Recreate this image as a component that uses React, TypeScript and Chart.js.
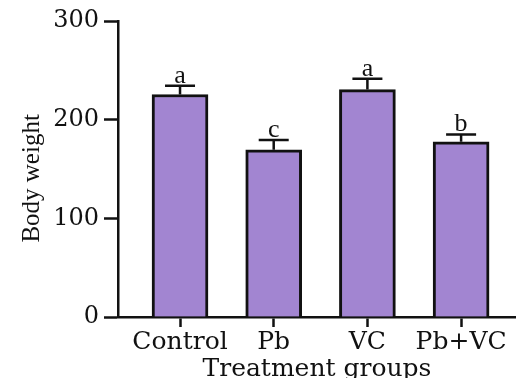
import React, { useEffect, useRef } from "react";
import { Chart, registerables } from "chart.js";

Chart.register(...registerables);

const categories = ["Control", "Pb", "VC", "Pb+VC"];
const means = [225.5, 169.5, 230.5, 177.5];
const errors = [9, 10, 11, 7.5];
const letters = ["a", "c", "a", "b"];
const yTicks = [0, 100, 200, 300];

const errorBarPlugin = {
  id: "errorBars",
  afterDatasetsDraw(chart: any) {
    const xs = chart.scales.x;
    const ys = chart.scales.y;
    const ctx = chart.ctx;
    ctx.save();
    ctx.strokeStyle = "#111";
    ctx.lineWidth = 2.5;
    ctx.fillStyle = "#111";
    ctx.font = "26px 'Liberation Serif'";
    ctx.textAlign = "center";
    ctx.textBaseline = "alphabetic";
    means.forEach((m, i) => {
      const x = xs.getPixelForValue(i);
      const yTop = ys.getPixelForValue(m);
      const yCap = ys.getPixelForValue(m + errors[i]);
      ctx.beginPath();
      ctx.moveTo(x, yTop);
      ctx.lineTo(x, yCap);
      ctx.moveTo(x - 15, yCap);
      ctx.lineTo(x + 15, yCap);
      ctx.stroke();
      ctx.fillText(letters[i], x, yCap - 3);
    });
    ctx.restore();
  },
};

export default function App() {
  const ref = useRef<HTMLCanvasElement | null>(null);
  useEffect(() => {
    if (!ref.current) return;
    const chart = new Chart(ref.current, {
      type: "bar",
      data: {
        datasets: [
          {
            label: "Body weight",
            data: means.map((v, i) => ({ x: i, y: v })),
            backgroundColor: "#a285d1",
            borderColor: "#111",
            borderWidth: 3,
            barThickness: 56,
          },
        ],
      },
      plugins: [errorBarPlugin],
      options: {
        animation: false,
        responsive: false,
        layout: { padding: { top: 21, left: 0, right: 0, bottom: 0 } },
        plugins: { legend: { display: false }, tooltip: { enabled: false } },
        scales: {
          x: {
            type: "linear",
            min: -0.662,
            max: 3.586,
            offset: false,
            afterBuildTicks: (scale: any) => {
              scale.ticks = categories.map((_, i) => ({ value: i }));
            },
            afterFit: (scale: any) => {
              scale.height = 61;
            },
            border: { display: true, color: "#111", width: 2.5 },
            grid: {
              offset: false,
              drawOnChartArea: false,
              drawTicks: true,
              tickLength: 10,
              tickWidth: 2.5,
              tickColor: "#111",
            },
            ticks: {
              padding: 0,
              color: "#111",
              maxRotation: 0,
              autoSkip: false,
              font: { family: "'DejaVu Serif'", size: 25, lineHeight: 1.2 },
              callback: (v: any) => categories[v as number] ?? "",
            },
            title: {
              display: true,
              text: "Treatment groups",
              color: "#111",
              font: { family: "'DejaVu Serif'", size: 25, lineHeight: 1.2 },
              padding: { top: 0, bottom: -6 },
            },
          },
          y: {
            min: 0,
            max: 300,
            afterBuildTicks: (scale: any) => {
              scale.ticks = yTicks.map((v) => ({ value: v }));
            },
            afterFit: (scale: any) => {
              scale.width = 118;
            },
            border: { display: true, color: "#111", width: 2.5 },
            grid: {
              drawOnChartArea: false,
              drawTicks: true,
              tickLength: 14,
              tickWidth: 2.5,
              tickColor: "#111",
            },
            ticks: {
              padding: 5,
              color: "#111",
              font: { family: "'DejaVu Serif'", size: 24 },
            },
            title: {
              display: true,
              text: "Body weight\u00a0\u00a0\u00a0",
              color: "#111",
              font: { family: "'Liberation Serif'", size: 25, lineHeight: 1.2 },
              padding: { top: 17, bottom: 0 },
            },
          },
        },
      },
    });
    return () => chart.destroy();
  }, []);
  return (
    <div
      style={{
        position: "fixed",
        left: 0,
        top: 0,
        width: 516,
        height: 378,
        overflow: "hidden",
        background: "#fff",
      }}
    >
      <canvas ref={ref} width={516} height={378} style={{ display: "block" }} />
    </div>
  );
}
